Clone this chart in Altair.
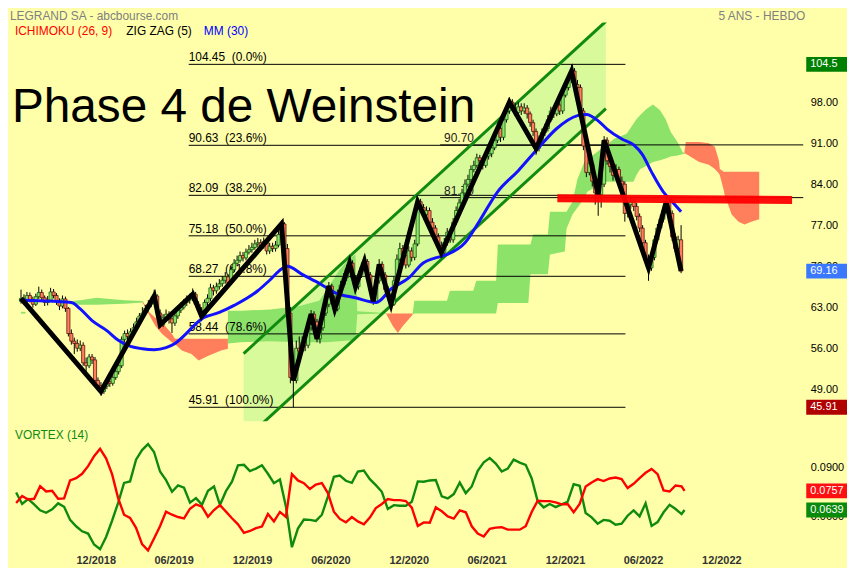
import altair as alt
import pandas as pd

# ---------------- data ----------------
START = pd.Timestamp("2018-05-28")   # week 0

closes = [
    64.5, 64.0, 65.0, 64.3, 63.5, 64.8, 65.5, 64.6, 63.8, 64.2,
    65.6, 65.0, 64.0, 63.2, 64.4, 62.8, 58.5, 57.2, 56.8, 56.0,
    56.5, 53.5, 53.0, 54.5, 54.0, 50.5, 49.6, 48.6, 49.5, 50.3,
    50.0, 51.0, 52.0, 53.0, 57.5, 58.5, 58.0, 58.8, 59.5, 60.5,
    61.5, 62.0, 62.8, 63.5, 64.0, 64.9, 62.0, 60.0, 61.2, 61.8,
    61.0, 60.3, 61.5, 62.5, 63.0, 63.8, 64.2, 64.5, 65.2, 63.5,
    62.5, 61.5, 63.8, 64.5, 66.3, 65.8, 66.5, 67.0, 67.6, 68.2,
    67.2, 69.4, 70.5, 71.0, 71.8, 71.4, 72.4, 72.8, 73.2, 73.8,
    74.0, 73.4, 74.2, 72.6, 73.4, 73.0, 73.6, 75.4, 77.2, 73.0,
    62.0, 51.0, 50.5, 56.0, 55.5, 57.0, 56.5, 59.5, 61.8, 60.5,
    57.6, 59.5, 62.0, 63.5, 66.6, 64.5, 62.7, 65.5, 66.8, 68.0,
    69.5, 70.5, 68.0, 66.5, 68.5, 69.8, 70.8, 68.5, 66.0, 64.0,
    67.5, 70.3, 68.5, 66.0, 64.8, 63.5, 67.5, 71.2, 73.0, 71.8,
    70.2, 72.6, 71.5, 73.8, 81.0, 80.0, 78.8, 79.5, 77.5, 76.5,
    75.0, 73.5, 72.3, 74.0, 75.8, 74.5, 77.5, 79.5, 80.8, 82.5,
    84.0, 84.8, 86.5, 87.2, 88.5, 88.0, 87.2, 88.8, 89.2, 90.2,
    91.5, 93.5, 92.0, 95.0, 96.5, 98.0, 97.0, 96.2, 97.2, 96.5,
    97.0, 96.0, 94.5, 93.0, 90.1, 91.5, 92.8, 93.5, 95.0, 96.5,
    96.0, 97.5, 96.5, 99.2, 100.5, 101.8, 103.3, 101.0, 100.5, 96.5,
    90.5, 86.0, 87.5, 84.5, 82.5, 82.2, 84.0, 91.5, 88.0, 87.0,
    85.5, 86.5, 84.5, 84.0, 79.0, 80.5, 81.0, 80.2, 78.5, 76.5,
    74.0, 71.0, 69.7, 71.5, 74.5, 76.5, 78.0, 79.5, 81.0, 79.0,
    75.0, 73.0, 74.5, 69.16,
]
highs = [
    66.0, 65.2, 65.6, 65.5, 64.8, 65.3, 66.5, 66.0, 65.0, 64.9,
    66.3, 66.1, 65.4, 64.5, 65.0, 64.8, 63.0, 59.2, 57.8, 57.5,
    57.3, 57.0, 54.4, 55.0, 55.0, 54.5, 51.0, 50.2, 50.0, 50.8,
    51.0, 51.6, 52.6, 53.5, 58.0, 59.0, 59.2, 59.4, 60.2, 61.2,
    62.0, 63.0, 63.4, 64.2, 64.8, 66.0, 65.2, 62.6, 61.8, 62.6,
    62.3, 61.5, 62.0, 63.2, 63.8, 64.4, 65.0, 65.3, 66.2, 65.6,
    64.0, 63.0, 64.3, 65.2, 67.0, 66.8, 67.2, 67.8, 68.3, 69.0,
    68.6, 70.0, 71.2, 71.8, 72.5, 72.4, 73.0, 73.6, 74.0, 74.5,
    74.8, 74.6, 74.9, 74.5, 74.0, 74.0, 74.3, 76.0, 77.8, 77.5,
    73.8, 63.0, 53.5, 57.3, 58.0, 58.0, 58.2, 60.5, 62.5, 62.3,
    61.0, 60.2, 62.6, 64.2, 67.3, 67.0, 65.0, 66.0, 67.5, 68.8,
    70.2, 71.5, 71.0, 68.5, 69.2, 70.6, 71.8, 71.2, 69.0, 66.5,
    68.2, 71.2, 70.8, 69.0, 66.6, 65.3, 68.2, 72.0, 74.0, 73.6,
    72.3, 73.4, 73.2, 74.5, 81.6, 81.5, 80.6, 80.2, 80.0, 78.2,
    77.0, 75.6, 74.2, 74.8, 76.5, 76.2, 78.2, 80.2, 81.5, 83.2,
    84.8, 85.6, 87.2, 88.0, 89.2, 89.0, 88.5, 89.5, 90.0, 91.0,
    92.3, 94.2, 94.0, 95.8, 97.2, 98.8, 98.5, 97.8, 98.0, 97.8,
    97.8, 97.5, 96.4, 95.0, 93.5, 92.3, 93.5, 94.3, 95.8, 97.2,
    97.0, 98.3, 98.0, 99.8, 101.3, 102.6, 104.45, 103.8, 101.8, 101.0,
    97.0, 91.0, 88.3, 88.0, 85.2, 84.0, 85.0, 92.2, 92.0, 89.0,
    87.8, 87.4, 87.0, 85.3, 84.5, 81.3, 81.8, 81.6, 80.8, 79.0,
    77.0, 74.5, 72.0, 72.3, 75.2, 77.2, 78.8, 80.2, 81.8, 81.4,
    79.5, 75.6, 75.2, 77.0,
]
lows = [
    63.6, 63.4, 63.7, 63.8, 62.9, 63.2, 64.4, 64.1, 63.2, 63.3,
    63.9, 64.5, 63.4, 62.5, 62.8, 62.2, 58.0, 56.6, 55.0, 55.4,
    55.5, 53.0, 52.0, 52.6, 53.3, 50.0, 49.0, 47.9, 48.2, 49.0,
    49.4, 49.6, 50.6, 51.5, 52.6, 57.0, 57.4, 57.5, 58.3, 59.0,
    60.0, 61.0, 61.5, 62.3, 63.0, 63.6, 61.6, 59.5, 59.6, 60.8,
    60.2, 58.6, 59.8, 61.0, 62.0, 62.6, 63.2, 63.6, 64.0, 63.0,
    61.9, 60.6, 61.2, 63.2, 64.0, 65.0, 65.3, 66.0, 66.5, 67.0,
    66.6, 66.8, 69.0, 70.0, 70.6, 70.8, 71.0, 72.0, 72.3, 72.8,
    73.2, 72.8, 73.0, 72.0, 72.1, 72.4, 72.5, 73.2, 75.0, 72.5,
    60.5, 50.0, 45.91, 50.0, 54.5, 55.0, 55.5, 56.0, 59.0, 59.6,
    57.0, 56.8, 59.0, 61.5, 63.0, 64.0, 62.0, 62.3, 65.0, 66.3,
    67.5, 69.0, 67.5, 66.0, 66.0, 68.0, 69.3, 68.0, 65.4, 63.4,
    63.6, 67.0, 68.0, 65.5, 64.2, 62.8, 63.2, 67.0, 70.8, 71.0,
    69.6, 69.8, 70.8, 71.0, 73.4, 79.3, 78.0, 78.2, 77.0, 75.8,
    74.5, 73.0, 71.6, 71.8, 73.5, 74.0, 74.0, 77.0, 79.0, 80.3,
    82.0, 83.5, 84.3, 86.0, 86.8, 87.3, 86.5, 86.8, 88.2, 88.6,
    89.8, 91.0, 91.2, 91.5, 94.5, 96.0, 96.5, 95.6, 95.8, 95.8,
    96.0, 95.2, 93.8, 92.2, 89.0, 89.6, 91.0, 92.2, 93.0, 94.6,
    95.3, 95.6, 95.8, 96.0, 98.8, 100.0, 101.3, 100.5, 99.6, 95.8,
    89.8, 85.2, 85.5, 83.6, 80.5, 78.6, 80.0, 83.5, 87.3, 86.0,
    84.6, 84.8, 83.8, 83.0, 77.6, 78.3, 79.8, 79.4, 77.8, 75.8,
    73.2, 70.2, 67.5, 69.2, 71.0, 74.0, 76.0, 77.5, 79.0, 78.4,
    74.3, 72.4, 72.6, 68.8,
]
first_open = 64.0

zigzag_weeks = [0, 27, 45, 47, 58, 61, 88, 92, 98, 100, 104, 106, 111, 113,
                116, 119, 121, 125, 134, 142, 165, 174, 186, 195, 197, 212, 218, 223]

mm_weeks = [0, 6, 17, 20, 24, 29, 33, 37, 41, 45, 49, 52, 55, 61, 67, 72, 80, 84,
            88, 90, 95, 101, 106, 113, 120, 125, 131, 136, 140, 144, 150, 155, 161,
            168, 175, 181, 188, 191, 195, 198, 203, 207, 210, 213, 217, 220, 223]
mm_values = [64.2, 64.1, 63.8, 62.7, 60.7, 59.0, 57.3, 56.3, 55.9, 55.75, 56.1, 56.8,
             58.1, 61.0, 62.1, 63.3, 65.8, 67.6, 69.5, 70.0, 68.6, 67.0, 65.5, 64.6,
             63.8, 66.1, 68.0, 70.6, 71.4, 72.0, 74.0, 77.8, 82.7, 86.3, 90.3, 93.5,
             95.7, 95.9, 94.8, 93.4, 91.7, 90.7, 89.0, 86.1, 82.7, 81.0, 79.3]

fib_levels = [104.45, 90.63, 82.09, 75.18, 68.27, 58.44, 45.91]
fib_pcts = ["0.0%", "23.6%", "38.2%", "50.0%", "61.8%", "78.6%", "100.0%"]
fib_span = [56.65, 204.2]

level_values = [90.70, 81.70]
level_start = 141.6

resist_weeks = [181.2, 260.5]
resist_values = [81.6, 81.3]

channel_weeks = [75.2, 197.6]
channel_upper = [55.07, 111.8]
channel_lower = [40.2, 96.9]

# Ichimoku cloud pieces: (week, top, bottom)
cloud_bull_a = [(0, 62.2, 61.9), (1.5, 62.2, 61.9)]
cloud_bull_b = [(16.5, 64.0, 63.5), (20, 64.2, 63.4), (25.5, 64.6, 63.4), (30, 64.4, 63.5),
                (35, 64.2, 63.6), (41.1, 64.07, 63.8)]
cloud_bear_a = [(41.1, 64.07, 63.8), (43.4, 62.1, 61.6), (45.4, 61.2, 59.8), (47.7, 60.5, 58.4),
                (48.7, 59.8, 58.0), (51.0, 58.4, 57.0), (52.0, 57.6, 56.7), (54.3, 57.6, 55.6),
                (57.6, 57.6, 55.0), (60.0, 57.6, 53.9), (63.3, 57.6, 54.7), (67.6, 57.6, 55.6),
                (69.9, 57.6, 55.9)]
cloud_bull_c = [(69.9, 62.4, 56.8), (74.2, 62.4, 57.0), (84.2, 62.6, 57.2), (94.1, 63.2, 57.0),
                (100.7, 64.1, 57.0), (103.1, 65.8, 57.0), (107.4, 69.2, 57.2), (110.7, 71.2, 57.3),
                (113.0, 72.0, 57.3), (113.6, 62.3, 61.8), (123.3, 62.0, 61.9)]
cloud_bear_b = [(123.3, 61.9, 61.9), (125.6, 61.9, 59.8), (127.3, 61.9, 58.6), (129.0, 61.9, 59.8),
                (132.3, 61.9, 61.7)]
cloud_bull_d = [(132.3, 61.9, 61.7), (132.9, 64.1, 61.9), (143.9, 64.1, 61.9), (144.9, 65.8, 61.9),
                (152.8, 65.8, 61.9), (153.8, 67.5, 61.9), (160.5, 67.5, 61.9), (161.1, 73.7, 63.7),
                (171.4, 73.7, 63.7), (172.1, 73.7, 68.6), (173.0, 75.4, 68.6), (178.0, 75.4, 68.6),
                (178.7, 79.3, 72.0), (183.7, 79.3, 72.5), (184.3, 79.3, 76.4), (186.3, 81.0, 78.8),
                (188.0, 84.9, 80.0), (190.3, 87.8, 81.6), (191.3, 88.2, 82.7), (195.9, 90.0, 84.0),
                (196.9, 90.3, 84.4), (200.3, 91.7, 84.4), (204.6, 92.6, 84.4), (206.9, 94.3, 84.4),
                (207.9, 95.1, 85.5), (209.2, 95.8, 86.6), (211.2, 96.8, 87.1), (213.5, 97.6, 87.8),
                (215.9, 96.6, 88.1), (217.8, 95.1, 88.4), (219.5, 92.9, 88.7), (221.8, 91.2, 88.9),
                (223.5, 89.5, 89.1), (224.1, 89.3, 89.2)]
cloud_bear_c = [(224.1, 89.3, 89.2), (224.6, 91.2, 89.2), (229.1, 91.2, 87.8), (232.4, 91.0, 87.3),
                (234.4, 90.4, 86.6), (235.8, 88.0, 85.8), (236.1, 86.6, 85.5), (237.4, 86.1, 83.0),
                (237.7, 86.1, 82.2), (240.1, 86.1, 78.8), (242.4, 86.1, 77.6), (244.4, 86.1, 77.1),
                (246.7, 86.1, 77.6), (249.4, 86.1, 78.0)]

vortex_weeks = list(range(0, 223, 2)) + [223]
vi_plus = [
    0.0747, 0.0676, 0.0706, 0.0674, 0.0637, 0.0622, 0.0643, 0.0680, 0.0659, 0.0578,
    0.0539, 0.0508, 0.0494, 0.0427, 0.0398, 0.0473, 0.0573, 0.0682, 0.0806, 0.0815,
    0.0949, 0.1008, 0.1045, 0.0996, 0.0876, 0.0823, 0.0751, 0.0790, 0.0776, 0.0684,
    0.0712, 0.0671, 0.0757, 0.0784, 0.0671, 0.0755, 0.0813, 0.0914, 0.0917, 0.0878,
    0.0894, 0.0914, 0.0862, 0.0804, 0.0827, 0.0661, 0.0410, 0.0525, 0.0580, 0.0578,
    0.0572, 0.0610, 0.0721, 0.0843, 0.0851, 0.0819, 0.0806, 0.0876, 0.0882, 0.0829,
    0.0792, 0.0751, 0.0645, 0.0669, 0.0665, 0.0665, 0.0690, 0.0815, 0.0813, 0.0821,
    0.0823, 0.0723, 0.0710, 0.0737, 0.0808, 0.0743, 0.0784, 0.0880, 0.0933, 0.0959,
    0.0925, 0.0876, 0.0894, 0.0949, 0.0931, 0.0917, 0.0833, 0.0692, 0.0655, 0.0676,
    0.0657, 0.0674, 0.0690, 0.0798, 0.0788, 0.0620, 0.0594, 0.0555, 0.0578, 0.0573,
    0.0549, 0.0555, 0.0604, 0.0637, 0.0600, 0.0680, 0.0541, 0.0565, 0.0625, 0.0671,
    0.0645, 0.0614, 0.0639,
]
vi_minus = [
    0.0682, 0.0725, 0.0704, 0.0708, 0.0786, 0.0753, 0.0757, 0.0708, 0.0710, 0.0821,
    0.0835, 0.0862, 0.0909, 0.0970, 0.1016, 0.0957, 0.0860, 0.0714, 0.0610, 0.0590,
    0.0529, 0.0429, 0.0390, 0.0464, 0.0539, 0.0629, 0.0610, 0.0596, 0.0588, 0.0647,
    0.0674, 0.0659, 0.0598, 0.0639, 0.0669, 0.0629, 0.0588, 0.0551, 0.0498, 0.0510,
    0.0527, 0.0537, 0.0614, 0.0569, 0.0627, 0.0596, 0.0860, 0.0821, 0.0804, 0.0768,
    0.0796, 0.0804, 0.0743, 0.0629, 0.0584, 0.0563, 0.0596, 0.0569, 0.0551, 0.0592,
    0.0651, 0.0676, 0.0706, 0.0700, 0.0700, 0.0694, 0.0653, 0.0541, 0.0563, 0.0561,
    0.0655, 0.0631, 0.0600, 0.0586, 0.0637, 0.0625, 0.0539, 0.0494, 0.0476, 0.0523,
    0.0531, 0.0533, 0.0518, 0.0518, 0.0518, 0.0539, 0.0627, 0.0696, 0.0694, 0.0694,
    0.0686, 0.0674, 0.0676, 0.0625, 0.0676, 0.0784, 0.0808, 0.0829, 0.0817, 0.0833,
    0.0839, 0.0829, 0.0774, 0.0800, 0.0835, 0.0868, 0.0892, 0.0860, 0.0759, 0.0753,
    0.0790, 0.0784, 0.0757,
]

tick_dates = ["2018-12-01", "2019-06-01", "2019-12-01", "2020-06-01", "2020-12-01",
              "2021-06-01", "2021-12-01", "2022-06-01", "2022-12-01"]
tick_labels = ["12/2018", "06/2019", "12/2019", "06/2020", "12/2020",
               "06/2021", "12/2021", "06/2022", "12/2022"]

price_tags = [(104.45, "104.5", "#008000"), (69.16, "69.16", "#3a78ff"), (45.91, "45.91", "#b00000")]
vortex_tags = [(0.0757, "0.0757", "#ff1010"), (0.0639, "0.0639", "#0a8a0a")]

# ---------------- frames ----------------
opens = [first_open] + closes[:-1]
candles = pd.DataFrame({
    "week": list(range(len(closes))), "open": opens, "close": closes,
    "high": highs, "low": lows,
})
candles["dir"] = ["up" if c >= o else "down" for o, c in zip(opens, closes)]

zz = pd.DataFrame({"week": zigzag_weeks, "price": [closes[w] for w in zigzag_weeks]})
mm = pd.DataFrame({"week": mm_weeks, "mm": mm_values})
fib = pd.DataFrame({
    "level": fib_levels,
    "label": [f"{lv:.2f}\u00a0 ({p})" for lv, p in zip(fib_levels, fib_pcts)],
    "x0": fib_span[0], "x1": fib_span[1],
})
lvl = pd.DataFrame({"level": level_values, "label": [f"{v:.2f}" for v in level_values],
                    "x0": level_start})
resist = pd.DataFrame({"x0": [resist_weeks[0]], "x1": [resist_weeks[1]],
                       "y0": [resist_values[0]], "y1": [resist_values[1]]})
chan_fill = pd.DataFrame({"week": channel_weeks, "upper": channel_upper, "lower": channel_lower})
chan_lines = pd.DataFrame({
    "x0": [channel_weeks[0]] * 2, "x1": [channel_weeks[1]] * 2,
    "y0": [channel_upper[0], channel_lower[0]], "y1": [channel_upper[1], channel_lower[1]],
})
cloud_parts = [("bull", cloud_bull_a), ("bull", cloud_bull_b), ("bear", cloud_bear_a),
               ("bull", cloud_bull_c), ("bear", cloud_bear_b), ("bull", cloud_bull_d),
               ("bear", cloud_bear_c)]
rows = []
for k, (kind, pts) in enumerate(cloud_parts):
    for w, t, b in pts:
        rows.append({"seg": k, "kind": kind, "week": w, "top": t, "bottom": b})
cloud = pd.DataFrame(rows)

vplus = pd.DataFrame({"week": vortex_weeks, "value": vi_plus})
vminus = pd.DataFrame({"week": vortex_weeks, "value": vi_minus})
ticks = pd.DataFrame({
    "pos": [(pd.Timestamp(d) - START).days / 7 for d in tick_dates],
    "label": tick_labels,
})
ptags = pd.DataFrame(price_tags, columns=["value", "label", "color"])
vtags = pd.DataFrame(vortex_tags, columns=["value", "label", "color"])

# ---------------- chart ----------------
W, H1, H2 = 800, 401, 128
FONT = "Liberation Sans"
xs = alt.Scale(domain=[-2.72, 262.6], nice=False, zero=False)
ys = alt.Scale(domain=[43.535, 111.58], nice=False, zero=False)
yaxis = alt.Axis(orient="right", values=[49, 56, 63, 70, 77, 84, 91, 98, 105], format=".2f",
                 title=None, ticks=False, domain=False, grid=False, labelPadding=7,
                 labelFontSize=11, labelColor="black", labelFont=FONT)


def X(f):
    return alt.X(f, type="quantitative", scale=xs, axis=None)


def Y(f):
    return alt.Y(f, type="quantitative", scale=ys, axis=yaxis)


def txt(s):
    return alt.Chart(pd.DataFrame({"t": [s]}))


channel_fill = alt.Chart(chan_fill).mark_area(color="#d9fa9a", clip=True).encode(
    x=X("week"), y=Y("upper"), y2="lower")
cloud_layer = alt.Chart(cloud).mark_area(opacity=1).encode(
    x=X("week"), y=Y("top"), y2="bottom",
    color=alt.Color("kind:N", scale=alt.Scale(domain=["bull", "bear"], range=["#8de26a", "#ff7f5c"]),
                    legend=None),
    detail="seg:N")
fib_rules = alt.Chart(fib).mark_rule(color="black", strokeWidth=1).encode(
    x=X("x0"), x2="x1", y=Y("level"))
fib_text = alt.Chart(fib).mark_text(align="left", baseline="alphabetic", dy=-3, fontSize=12,
                                    color="black", font=FONT).encode(
    x=X("x0"), y=Y("level"), text="label:N")
lvl_rules = alt.Chart(lvl).mark_rule(color="black", strokeWidth=1).encode(
    x=X("x0"), x2=alt.value(W), y=Y("level"))
lvl_text = alt.Chart(lvl).mark_text(align="left", baseline="alphabetic", dx=4, dy=-3, fontSize=12,
                                    color="#222222", font=FONT).encode(
    x=X("x0"), y=Y("level"), text="label:N")
channel = alt.Chart(chan_lines).mark_rule(color="#118a11", strokeWidth=3, clip=True).encode(
    x=X("x0"), x2="x1", y=Y("y0"), y2="y1")
wicks = alt.Chart(candles).mark_rule(color="#000000", strokeWidth=1).encode(
    x=X("week"), y=Y("low"), y2="high")
bodies = alt.Chart(candles).mark_bar(size=3.2, strokeWidth=0.7, opacity=1).encode(
    x=X("week"), y=Y("open"), y2="close",
    color=alt.Color("dir:N", scale=alt.Scale(domain=["up", "down"], range=["#00e600", "#e60000"]),
                    legend=None),
    stroke=alt.Stroke("dir:N", scale=alt.Scale(domain=["up", "down"], range=["#004d00", "#4d0000"]),
                      legend=None))
mm_line = alt.Chart(mm).mark_line(color="#1212ff", strokeWidth=3, interpolate="monotone").encode(
    x=X("week"), y=Y("mm"))
zz_line = alt.Chart(zz).mark_line(color="black", strokeWidth=5).encode(
    x=X("week"), y=Y("price"))
resist_line = alt.Chart(resist).mark_rule(color="#ff0000", strokeWidth=8, opacity=0.95).encode(
    x=X("x0"), x2="x1", y=Y("y0"), y2="y1")
ptag_rect = alt.Chart(ptags).mark_rect(yOffset=-7.5, y2Offset=7.5).encode(
    x=alt.value(803), x2=alt.value(844), y=Y("value"), y2="value",
    color=alt.Color("color:N", scale=None))
ptag_text = alt.Chart(ptags).mark_text(align="left", baseline="middle", color="white", fontSize=11,
                                       font=FONT).encode(
    x=alt.value(807), y=Y("value"), text="label:N")
big = txt("Phase 4 de Weinstein").mark_text(align="left", baseline="alphabetic", fontSize=48,
                                            color="black", font=FONT).encode(
    x=alt.value(4), y=alt.value(100), text="t:N")
title_l = txt("LEGRAND SA - abcbourse.com").mark_text(align="left", baseline="top", fontSize=12,
                                                     color="#808080", font=FONT).encode(
    x=alt.value(2), y=alt.value(-12), text="t:N")
title_r = txt("5 ANS - HEBDO").mark_text(align="right", baseline="top", fontSize=12,
                                         color="#808080", font=FONT).encode(
    x=alt.value(802), y=alt.value(-12), text="t:N")
leg1 = txt("ICHIMOKU (26, 9)").mark_text(align="left", baseline="middle", fontSize=12,
                                         color="#ff0000", font=FONT).encode(
    x=alt.value(7), y=alt.value(8), text="t:N")
leg2 = txt("ZIG ZAG (5)").mark_text(align="left", baseline="middle", fontSize=12,
                                    color="black", font=FONT).encode(
    x=alt.value(119), y=alt.value(8), text="t:N")
leg3 = txt("MM (30)").mark_text(align="left", baseline="middle", fontSize=12,
                                color="#0000ff", font=FONT).encode(
    x=alt.value(197), y=alt.value(8), text="t:N")

main = alt.layer(
    channel_fill, cloud_layer, fib_rules, fib_text, lvl_rules, lvl_text, channel,
    wicks, bodies, mm_line, zz_line, resist_line, ptag_rect, ptag_text,
    big, title_l, title_r, leg1, leg2, leg3,
).properties(width=W, height=H1)

vs = alt.Scale(domain=[0.0378, 0.1161], nice=False, zero=False)
vaxis = alt.Axis(orient="right", values=[0.06, 0.09], format=".4f", title=None, ticks=False,
                 domain=False, grid=False, labelPadding=7, labelFontSize=11,
                 labelColor="black", labelFont=FONT)


def VY(f):
    return alt.Y(f, type="quantitative", scale=vs, axis=vaxis)


vline_plus = alt.Chart(vplus).mark_line(strokeWidth=2.4, color="#0f8a0f", opacity=1).encode(
    x=X("week"), y=VY("value"))
vline_minus = alt.Chart(vminus).mark_line(strokeWidth=2.4, color="#ff0000", opacity=1).encode(
    x=X("week"), y=VY("value"))
vtag_rect = alt.Chart(vtags).mark_rect(yOffset=-7.5, y2Offset=7.5).encode(
    x=alt.value(803), x2=alt.value(844), y=VY("value"), y2="value",
    color=alt.Color("color:N", scale=None))
vtag_text = alt.Chart(vtags).mark_text(align="left", baseline="middle", color="white", fontSize=11,
                                       font=FONT).encode(
    x=alt.value(807), y=VY("value"), text="label:N")
vlabel = txt("VORTEX (14)").mark_text(align="left", baseline="middle", fontSize=12,
                                      color="#108a10", font=FONT).encode(
    x=alt.value(7), y=alt.value(10), text="t:N")
xlabels = alt.Chart(ticks).mark_text(baseline="middle", fontSize=11, fontWeight="bold",
                                     color="#333333", font=FONT).encode(
    x=X("pos"), y=alt.value(137), text="label:N")

vortex = alt.layer(vline_plus, vline_minus, vtag_rect, vtag_text, vlabel, xlabels).properties(
    width=W, height=H2)

chart = alt.vconcat(main, vortex, spacing=4).properties(
    padding=0, background="#ffffaa"
).configure(font=FONT).configure_view(stroke=None)

chart.save("out.html", embed_options={"renderer": "svg", "actions": False})
